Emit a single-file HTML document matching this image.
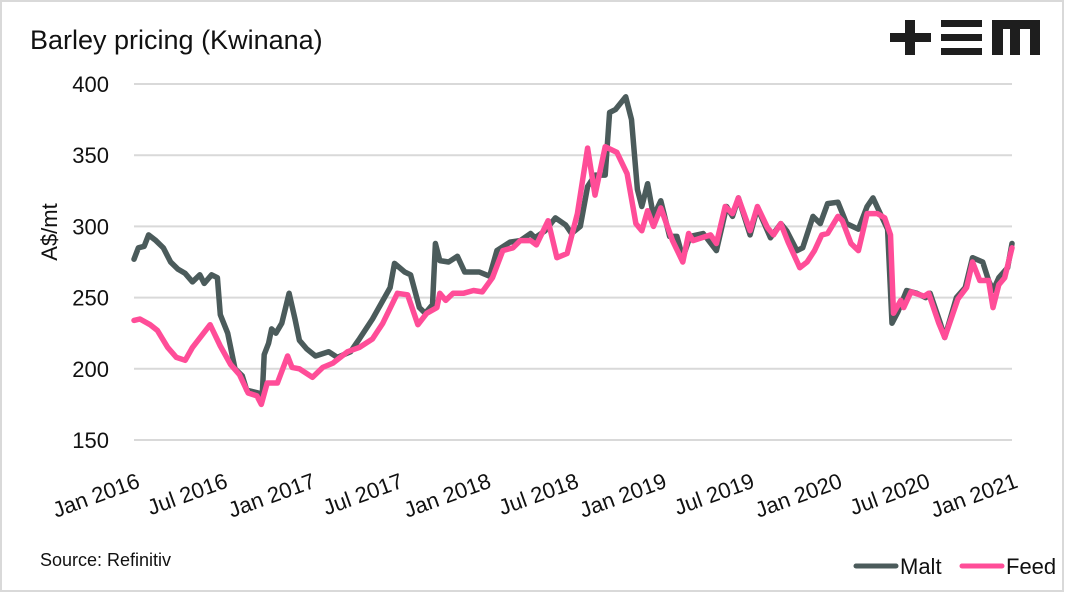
<!DOCTYPE html>
<html><head><meta charset="utf-8"><style>
html,body{margin:0;padding:0;background:#fff;}
#wrap{position:relative;width:1065px;height:593px;overflow:hidden;font-family:"Liberation Sans",sans-serif;}
</style></head><body>
<div id="wrap">
<svg id="chart" width="1065" height="593" xmlns="http://www.w3.org/2000/svg">
<rect x="1" y="1" width="1062" height="590" fill="#fff" stroke="#d9d9d9" stroke-width="2"/>
<text x="30" y="49" font-size="27" fill="#111">Barley pricing (Kwinana)</text>
<g fill="#1e1e1e">
<rect x="890" y="33" width="41" height="9"/><rect x="905" y="20" width="10" height="35"/>
<rect x="941" y="20" width="41" height="7"/><rect x="941" y="34" width="41" height="7"/><rect x="941" y="48" width="41" height="7"/>
<rect x="992" y="20" width="48" height="9"/><rect x="992" y="20" width="11" height="35"/><rect x="1010" y="20" width="10" height="35"/><rect x="1030" y="20" width="10" height="35"/>
</g>
<g id="grid"></g><g id="yt"></g><g id="xt"></g><g id="lines"></g>
<text transform="translate(57,232) rotate(-90)" text-anchor="middle" font-size="22" fill="#111">A$/mt</text>
<text x="40" y="566" font-size="18" fill="#111">Source: Refinitiv</text>
<g>
<g><line x1="856" y1="566" x2="896" y2="566" stroke="#4b5b5b" stroke-width="5" stroke-linecap="round"/><text x="900" y="574" font-size="22" fill="#111">Malt</text></g>
<g><line x1="962" y1="566" x2="1002" y2="566" stroke="#ff4d98" stroke-width="5" stroke-linecap="round"/><text x="1006" y="574" font-size="22" fill="#111">Feed</text></g>
</g>
</svg>
</div>
<script>
// months since Jan 2016
const maltMonths=[0,.3,.7,1,1.5,2,2.5,3,3.5,4,4.5,4.8,5.3,5.7,5.9,6.4,6.9,7.4,7.7,8.5,8.75,8.9,9.2,9.4,9.7,10.1,10.6,11,11.3,11.8,12.4,13.3,13.9,14.8,15.2,15.4,16.3,17.5,17.8,18.5,18.9,19.5,19.9,20.4,20.6,20.9,21.5,22.1,22.6,23.6,24.3,24.8,25.7,26.4,27.1,27.4,28.1,28.8,29.5,29.9,30.5,31.0,31.5,32.2,32.5,32.9,33.6,34.0,34.4,34.7,35.1,35.5,36.0,36.6,37.1,37.5,38.0,38.9,39.8,40.5,40.9,41.3,42.1,42.6,43.5,44.2,44.6,45.3,45.7,46.4,46.9,47.4,48.1,48.7,49.5,50.1,50.5,51.0,51.5,51.8,52.2,52.8,53.5,54.1,54.4,55.1,55.4,56.2,56.8,57.3,58.0,58.4,58.7,59.1,59.7,60];
const maltValues=[277,285,286,294,290,285,275,270,267,261,266,260,266,264,238,225,200,195,185,183,178,210,218,228,225,232,253,235,220,214,209,212,208,212,218,221,235,257,274,268,266,243,239,245,288,276,275,279,268,268,265,283,289,290,295,292,297,306,301,295,300,328,336,336,380,382,391,375,326,314,330,307,318,293,293,278,293,295,283,314,307,320,294,313,292,302,297,283,285,307,302,316,317,302,298,314,320,309,298,232,240,255,253,250,253,232,222,250,257,278,275,262,255,264,271,288];
const feedMonths=[0,.4,1.1,1.6,2.3,2.9,3.5,4,5.2,5.9,6.6,7.2,7.8,8.4,8.7,9.1,9.8,10.5,10.8,11.3,12.2,12.9,13.6,14.6,15.4,16.3,17,18,18.7,19.4,20,20.7,20.9,21.3,21.8,22.5,23.2,23.8,24.5,25.2,25.9,26.4,27.1,27.5,28.3,28.9,29.6,30.3,31,31.5,32.2,33,33.7,34.3,34.7,35.1,35.5,36,36.8,37.5,37.9,38.2,39.4,39.8,40.4,40.9,41.3,42.1,42.6,43.3,43.7,44.2,44.7,45.5,46,46.5,47,47.4,48.1,48.4,49,49.5,50.1,50.8,51.3,51.7,51.9,52.4,52.6,53.1,54,54.3,55,55.4,56.3,56.9,57.3,57.8,58.4,58.7,59.1,59.5,60];
const feedValues=[234,235,231,227,215,208,206,215,231,216,203,196,183,181,175,190,190,209,201,200,194,201,204,212,215,221,232,253,252,231,239,243,253,248,253,253,255,254,264,283,285,290,290,287,304,278,281,309,355,322,356,352,337,302,297,311,300,313,290,275,295,290,294,288,314,309,320,297,314,299,294,302,289,271,275,283,294,295,307,304,288,283,309,309,306,294,239,248,243,254,251,253,232,222,249,257,275,262,262,243,259,264,285];
const yTicks=[150,200,250,300,350,400];
const xTickLabels=["Jan 2016","Jul 2016","Jan 2017","Jul 2017","Jan 2018","Jul 2018","Jan 2019","Jul 2019","Jan 2020","Jul 2020","Jan 2021"];
const xTickMonths=[0,6,12,18,24,30,36,42,48,54,60];

const NS="http://www.w3.org/2000/svg";
const X0=134,X1=1012,Y0=440,Y1=84;
const xs=m=>X0+(X1-X0)*m/60;
const ys=v=>Y0-(Y0-Y1)*(v-150)/250;
function mk(tag,attrs,parent){const e=document.createElementNS(NS,tag);for(const k in attrs)e.setAttribute(k,attrs[k]);parent.appendChild(e);return e;}
const grid=document.getElementById('grid'),yt=document.getElementById('yt'),xt=document.getElementById('xt'),lines=document.getElementById('lines');
yTicks.forEach(v=>{
  const l=mk('line',{x1:X0,x2:X1,y1:ys(v),y2:ys(v),stroke:'#d9d9d9','stroke-width':2},grid);
  
  
  const t=mk('text',{x:109,y:ys(v)+8,'text-anchor':'end','font-size':22,fill:'#111'},yt);
  t.textContent=v;
  
  
});
xTickLabels.forEach((s,i)=>{
  const x=xs(xTickMonths[i]);
  const t=mk('text',{transform:`translate(${x+1},${470}) rotate(-20)`,'text-anchor':'end','font-size':22,fill:'#111',dy:'18'},xt);
  t.textContent=s;
  
  
});
function series(ms,vs,color,name){
  const pts=ms.map((m,i)=>xs(m).toFixed(1)+','+ys(vs[i]).toFixed(1)).join(' ');
  const p=mk('polyline',{points:pts,fill:'none',stroke:color,'stroke-width':5.5,'stroke-linejoin':'round','stroke-linecap':'round'},lines);
  
  
}
series(maltMonths,maltValues,'#4b5b5b','malt-line');
series(feedMonths,feedValues,'#ff4d98','feed-line');
</script>
</body></html>
